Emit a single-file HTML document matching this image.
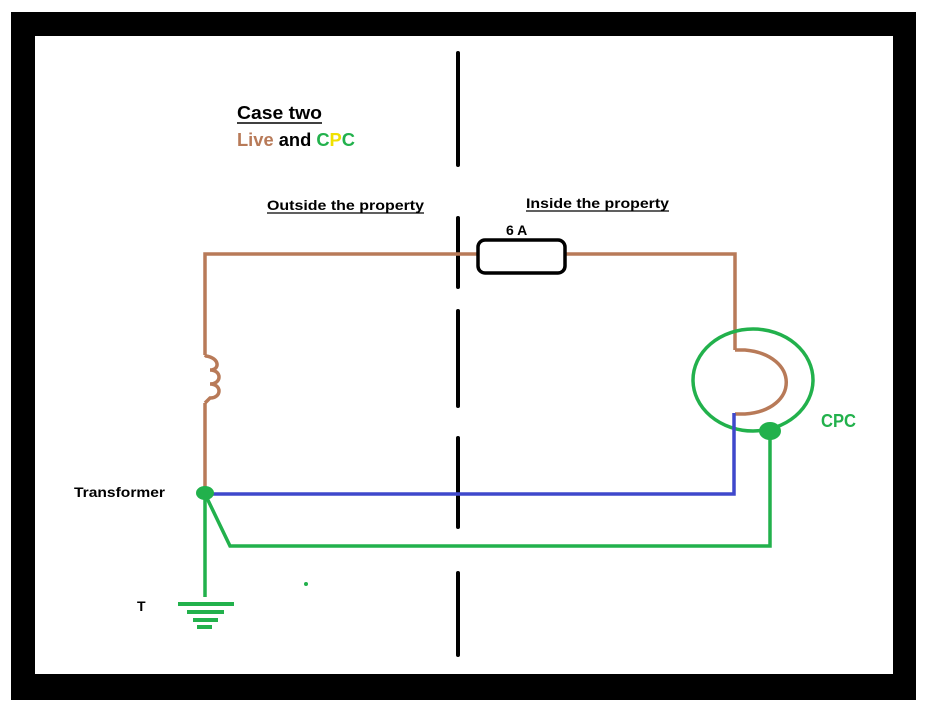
<!DOCTYPE html>
<html><head><meta charset="utf-8"><style>
html,body{margin:0;padding:0;background:#fff;}
svg{display:block;}
text{font-family:"Liberation Sans",sans-serif;font-weight:bold;}
</style></head><body>
<svg width="928" height="716" viewBox="0 0 928 716" xmlns="http://www.w3.org/2000/svg">
<rect x="0" y="0" width="928" height="716" fill="#fff"/>
<rect x="11" y="12" width="905" height="688" fill="#000"/>
<rect x="35" y="36" width="858" height="638" fill="#fff"/>

<g stroke="#000" stroke-width="4" stroke-linecap="round">
<line x1="458" y1="53" x2="458" y2="165"/>
<line x1="458" y1="218" x2="458" y2="287"/>
<line x1="458" y1="311" x2="458" y2="406"/>
<line x1="458" y1="438" x2="458" y2="527"/>
<line x1="458" y1="573" x2="458" y2="655"/>
</g>

<g fill="none" stroke="#b87a58" stroke-width="3.5">
<polyline points="205,487 205,403"/>
<path d="M205,403 L210,398 C222,398 222,384 210,384 C222,384 222,370 210,370 C220,370 220,358 206,356 L205,355"/>
<polyline points="205,355 205,254 478,254"/>
<polyline points="565,254 735,254 735,350"/>
<path d="M735,350 L745,350 C800,355 800,410 745,414 L735,414"/>
</g>

<rect x="478" y="240" width="87" height="33" rx="7" fill="#fff" stroke="#000" stroke-width="3.5"/>

<ellipse cx="753" cy="380" rx="60" ry="51" fill="none" stroke="#22b14c" stroke-width="3.5"/>

<polyline points="205,494 734,494 734,413" fill="none" stroke="#3f48cc" stroke-width="3.5"/>

<g fill="none" stroke="#22b14c" stroke-width="3.5">
<polyline points="770,431 770,546 230,546 205,494"/>
<line x1="205" y1="494" x2="205" y2="597"/>
<line x1="178" y1="604" x2="234" y2="604" stroke-width="4"/>
<line x1="187" y1="612" x2="224" y2="612" stroke-width="4"/>
<line x1="193" y1="620" x2="218" y2="620" stroke-width="4"/>
<line x1="197" y1="627" x2="212" y2="627" stroke-width="4"/>
</g>
<ellipse cx="205" cy="493" rx="9" ry="7" fill="#22b14c"/>
<ellipse cx="770" cy="431" rx="11" ry="9" fill="#22b14c"/>
<circle cx="306" cy="584" r="2" fill="#22b14c"/>

<text x="237" y="119" font-size="18" fill="#000" textLength="85" lengthAdjust="spacingAndGlyphs">Case two</text>
<line x1="237" y1="123" x2="322" y2="123" stroke="#000" stroke-width="1.5"/>
<text x="237" y="146" font-size="18" textLength="118" lengthAdjust="spacingAndGlyphs"><tspan fill="#b87a58">Live</tspan><tspan fill="#000"> and </tspan><tspan fill="#22b14c">C</tspan><tspan fill="#f0e000">P</tspan><tspan fill="#22b14c">C</tspan></text>
<text x="267" y="210" font-size="14" fill="#000" textLength="157" lengthAdjust="spacingAndGlyphs">Outside the property</text>
<line x1="267" y1="213" x2="424" y2="213" stroke="#000" stroke-width="1.2"/>
<text x="526" y="208" font-size="14" fill="#000" textLength="143" lengthAdjust="spacingAndGlyphs">Inside the property</text>
<line x1="526" y1="211" x2="669" y2="211" stroke="#000" stroke-width="1.2"/>
<text x="506" y="235" font-size="14" fill="#000">6 A</text>
<text x="74" y="497" font-size="14" fill="#000" textLength="91" lengthAdjust="spacingAndGlyphs">Transformer</text>
<text x="137" y="611" font-size="14" fill="#000">T</text>
<text x="821" y="427" font-size="18" fill="#22b14c" textLength="35" lengthAdjust="spacingAndGlyphs">CPC</text>
</svg>
</body></html>
